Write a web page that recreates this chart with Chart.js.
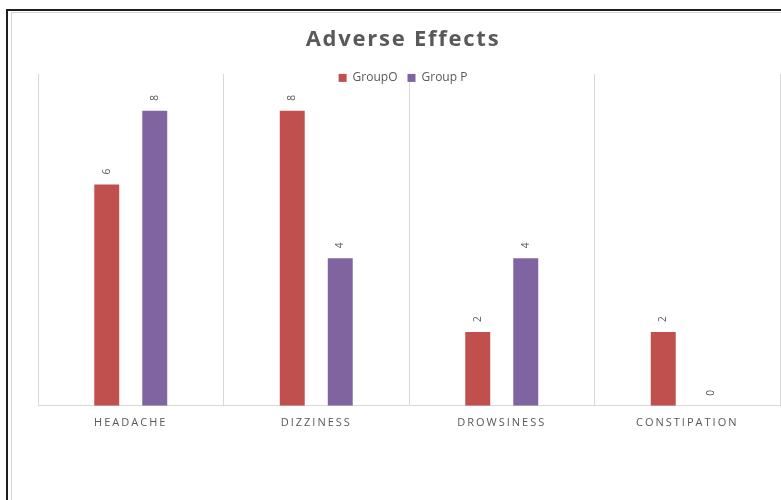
<!DOCTYPE html>
<html><head><meta charset="utf-8">
<script src="https://cdn.jsdelivr.net/npm/chart.js@4/dist/chart.umd.min.js"></script>
<style>
html,body{margin:0;padding:0;background:#fff;width:781px;height:500px;overflow:hidden;}
#wrap{position:relative;width:781px;height:500px;overflow:hidden;}
.f1{position:absolute;left:6px;top:9px;width:800px;height:520px;border-left:2px solid #1e1e1e;border-top:2px solid #1e1e1e;}
.f2{position:absolute;left:11px;top:12px;width:800px;height:520px;border-left:1px solid #d4d4d4;border-top:1px solid #d4d4d4;}
canvas{position:absolute;left:0;top:0;}
</style></head>
<body><div id="wrap"><div class="f1"></div><div class="f2"></div><canvas id="c" width="781" height="500"></canvas></div>
<script>
const categories = ['HEADACHE', 'DIZZINESS', 'DROWSINESS', 'CONSTIPATION'];
const seriesNames = ['GroupO', 'Group P'];
const groupO = [6, 8, 2, 2];
const groupP = [8, 4, 4, 0];
const chartTitle = 'Adverse Effects';

const TEXT = '#595959';

// letter spacing for title and category labels
const spacingPlugin = {
  id: 'spacing',
  beforeDraw(chart) {
    const t = chart.titleBlock;
    if (t && !t._sp) {
      t._sp = true;
      const d = t.draw.bind(t);
      t.draw = function () {
        const ctx = this.ctx; ctx.save(); ctx.letterSpacing = '1.75px'; d(); ctx.restore();
      };
    }
    const x = chart.scales.x;
    if (x && !x._sp) {
      x._sp = true;
      const d = x.drawLabels.bind(x);
      x.drawLabels = function (a) {
        const ctx = this.ctx; ctx.save(); ctx.letterSpacing = '2px'; d(a); ctx.restore();
      };
    }
  }
};

// let the legend sit over the top of the plot area
const legendOverlap = {
  id: 'legendOverlap',
  beforeLayout(chart) {
    const lg = chart.legend;
    if (lg && !lg._ov) {
      lg._ov = true;
      const fit = lg.fit.bind(lg);
      lg.fit = function () { fit(); this.height = Math.max(0, this.height - 20); };
      lg.draw = function () { if (this.options.display) this._draw(); };
    }
  }
};

const barLabels = {
  id: 'barLabels',
  afterDatasetsDraw(chart) {
    const ctx = chart.ctx;
    ctx.save();
    ctx.font = '10px "Open Sans"';
    ctx.fillStyle = TEXT;
    ctx.textAlign = 'center';
    ctx.textBaseline = 'middle';
    chart.data.datasets.forEach((ds, i) => {
      const meta = chart.getDatasetMeta(i);
      meta.data.forEach((bar, j) => {
        ctx.save();
        ctx.translate(bar.x, bar.y - 13);
        ctx.rotate(-Math.PI / 2);
        ctx.fillText(String(ds.data[j]), 0, 0);
        ctx.restore();
      });
    });
    ctx.restore();
  }
};

new Chart(document.getElementById('c'), {
  type: 'bar',
  data: {
    labels: categories,
    datasets: [
      { label: seriesNames[0], data: groupO, backgroundColor: '#C0504D' },
      { label: seriesNames[1], data: groupP, backgroundColor: '#8064A2' }
    ]
  },
  options: {
    responsive: false,
    animation: false,
    categoryPercentage: 0.5175,
    barPercentage: 0.52,
    layout: { padding: { left: 26, right: 1, top: 26.5, bottom: 61 } },
    plugins: {
      title: {
        display: true, text: chartTitle, color: TEXT,
        font: { family: '"Open Sans"', size: 22, weight: 'bold', lineHeight: 1.2 },
        padding: { top: 0, bottom: 9 }
      },
      legend: {
        display: true, position: 'top',
        labels: {
          color: TEXT, boxWidth: 8, boxHeight: 8, padding: 10,
          font: { family: '"Open Sans"', size: 12 }
        }
      },
      tooltip: { enabled: false }
    },
    scales: {
      x: {
        grid: { display: true, color: '#d9d9d9', lineWidth: 1, drawTicks: false, offset: true },
        border: { display: true, color: '#d9d9d9', width: 1 },
        ticks: { color: TEXT, padding: 10, font: { family: '"Open Sans"', size: 11 } }
      },
      y: {
        display: true, min: 0, max: 9,
        afterFit(s) { s.width = 12; },
        grid: { display: false },
        border: { display: false },
        ticks: { display: false }
      }
    }
  },
  plugins: [spacingPlugin, legendOverlap, barLabels]
});
</script>
</body></html>
